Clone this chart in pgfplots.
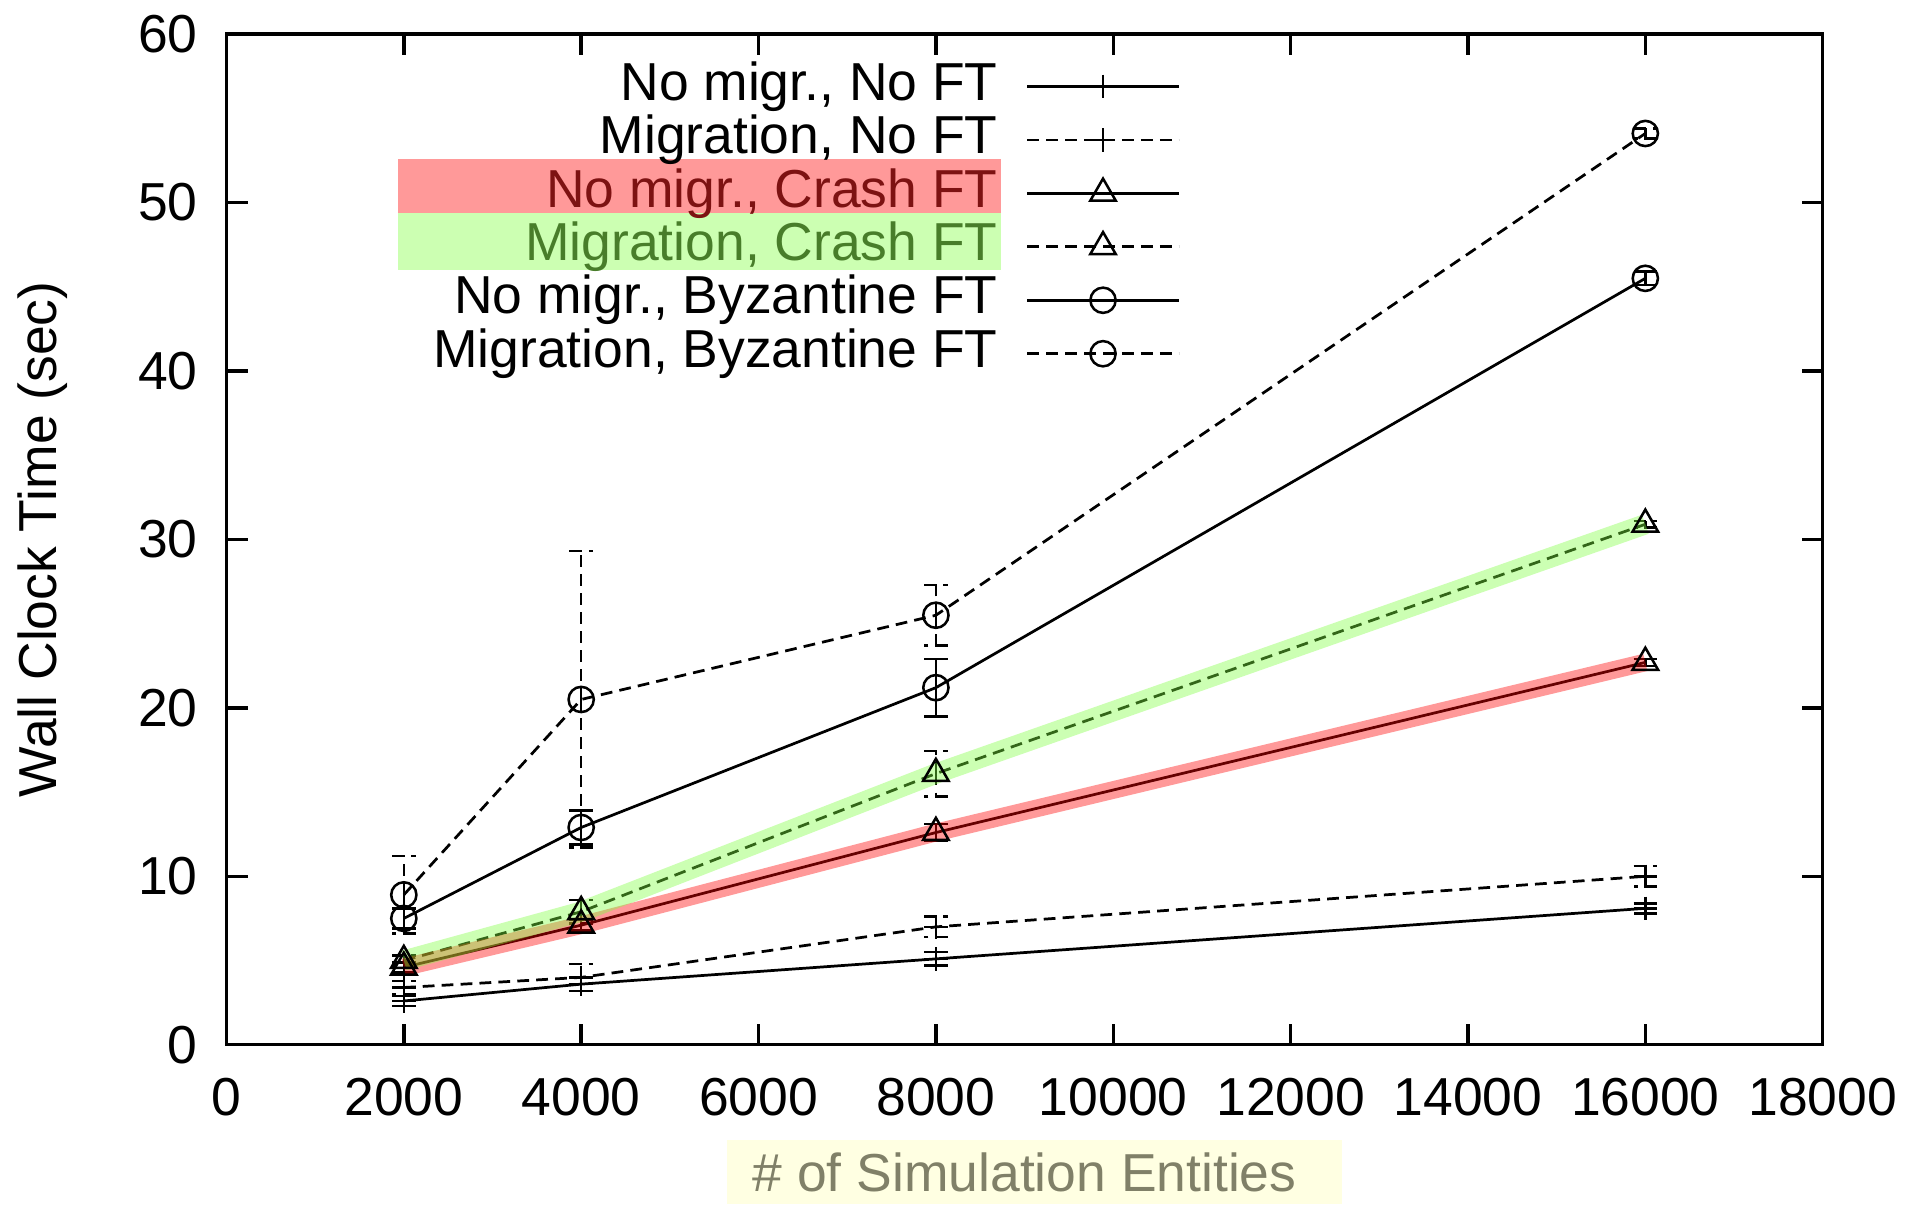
\documentclass[border=0pt]{standalone}
\usepackage{fontspec}
\setmainfont{Liberation Sans}
\usepackage{pgfplots}
\pgfplotsset{compat=1.18}
\definecolor{crashtxt}{RGB}{125,18,18}
\definecolor{crashbg}{RGB}{255,153,153}
\definecolor{migtxt}{RGB}{72,125,42}
\definecolor{migbg}{RGB}{204,255,178}
\definecolor{migband}{RGB}{128,255,64}
\definecolor{xlabtxt}{RGB}{128,128,104}
\definecolor{xlabbg}{RGB}{255,255,226}
\newcommand{\lblfont}{\fontsize{12.7}{15}\selectfont}

\pgfplotsset{
  gp solid/.style={black, line width=0.65pt, solid,
    mark options={solid, line width=0.6pt},
    error bars/y dir=both, error bars/y explicit,
    error bars/error mark=|,
    error bars/error bar style={line width=0.6pt, solid},
    error bars/error mark options={mark size=2.8pt, line width=0.6pt, solid}},
  gp dashed/.style={black, line width=0.65pt, dash pattern=on 2.8pt off 1.7pt,
    mark options={solid, line width=0.6pt},
    error bars/y dir=both, error bars/y explicit,
    error bars/error mark=|,
    error bars/error mark options={mark size=2.8pt, line width=0.6pt, dash pattern=on 3pt off 1.6pt},
    error bars/error bar style={line width=0.6pt, dash pattern=on 2.8pt off 1.7pt}},
}

\begin{document}
\begin{tikzpicture}
\useasboundingbox (-53.8pt,-37.9pt) rectangle (399.7pt,248.2pt);
\begin{axis}[
  scale only axis,
  width=379.2pt, height=240.1pt,
  xmin=0, xmax=18000, ymin=0, ymax=60,
  xtick={0,2000,...,18000},
  ytick={0,10,...,60},
  tick pos=both, tick align=inside,
  major tick length=5pt,
  axis line style={line width=0.8pt},
  every tick/.style={black, line width=0.8pt},
  scaled ticks=false,
  /pgf/number format/assume math mode=true,
  /pgf/number format/set thousands separator={},
  every tick label/.append style={font=\lblfont},
  xticklabel style={yshift=-4.5pt},
  yticklabel style={xshift=-3.3pt},
  ylabel={Wall Clock Time (sec)},
  ylabel style={font=\lblfont, at={(axis description cs:0,0.5)}, anchor=center, yshift=43.7pt},
  legend cell align=right,
  legend plot pos=right,
  legend image code/.code={\draw[mark repeat=2,mark phase=2,#1] plot coordinates {(0pt,0pt) (18pt,0pt) (36pt,0pt)};},
  legend style={at={(axis description cs:0.598,0.973)}, anchor=north east,
    draw=none, fill=none, inner sep=0pt, font=\lblfont,
    nodes={inner sep=0pt, text height=9pt, text depth=2.5pt},
    row sep=1.2pt, column sep=6.7pt},
  clip=false,
]
% highlight boxes behind two legend entries
\fill[crashbg] (axis cs:1936,49.39) rectangle (axis cs:8730,52.57);
\fill[migbg] (axis cs:1936,45.99) rectangle (axis cs:8730,49.39);

\addplot[gp solid, mark=+, mark size=2.8pt] coordinates {
  (2000,2.6) +- (0,0.3) (4000,3.6) +- (0,0.4) (8000,5.1) +- (0,0.4) (16000,8.1) +- (0,0.3)};
\addlegendentry{No migr., No FT}
\addplot[gp dashed, mark=+, mark size=2.8pt] coordinates {
  (2000,3.4) +- (0,0.4) (4000,4.0) +- (0,0.8) (8000,7.0) +- (0,0.6) (16000,10.0) +- (0,0.6)};
\addlegendentry{Migration, No FT}
\addplot[gp solid, mark=triangle, mark size=3.5pt] coordinates {
  (2000,4.6) +- (0,0.3) (4000,7.1) +- (0,0.3) (8000,12.6) +- (0,0.5) (16000,22.7) +- (0,0.2)};
\addlegendentry{\textcolor{crashtxt}{No migr., Crash FT}}
\addplot[gp dashed, mark=triangle, mark size=3.5pt] coordinates {
  (2000,5.0) +- (0,0.3) (4000,7.9) +- (0,0.7) (8000,16.1) +- (0,1.35) (16000,30.9) +- (0,0.2)};
\addlegendentry{\textcolor{migtxt}{Migration, Crash FT}}
\addplot[gp solid, mark=o, mark size=3pt] coordinates {
  (2000,7.5) +- (0,0.6) (4000,12.9) +- (0,1.0) (8000,21.2) +- (0,1.7) (16000,45.5) +- (0,0.4)};
\addlegendentry{No migr., Byzantine FT}
\addplot[gp dashed, mark=o, mark size=3pt] coordinates {
  (2000,8.9) +- (0,2.3) (4000,20.5) +- (0,8.8) (8000,25.5) +- (0,1.8) (16000,54.1) +- (0,0.3)};
\addlegendentry{Migration, Byzantine FT}

% translucent highlight bands over the two crash-FT lines
\addplot[forget plot, red, opacity=0.4, line width=4.2pt, line cap=butt] coordinates {
  (2000,4.6) (4000,7.1) (8000,12.6) (16000,22.7)};
\addplot[forget plot, migband, opacity=0.4, line width=4.8pt, line cap=butt] coordinates {
  (2000,5.0) (4000,7.9) (8000,16.1) (16000,30.9)};

\node[fill=xlabbg, minimum width=146pt, minimum height=15.2pt, inner sep=0pt]
  at (axis description cs:0.5,0) [yshift=-30.3pt, xshift=2.4pt] {};
\node[text=xlabtxt, font=\lblfont, inner sep=0pt]
  at (axis description cs:0.5,0) [yshift=-30.3pt] {\# of Simulation Entities};
\end{axis}
\end{tikzpicture}
\end{document}
